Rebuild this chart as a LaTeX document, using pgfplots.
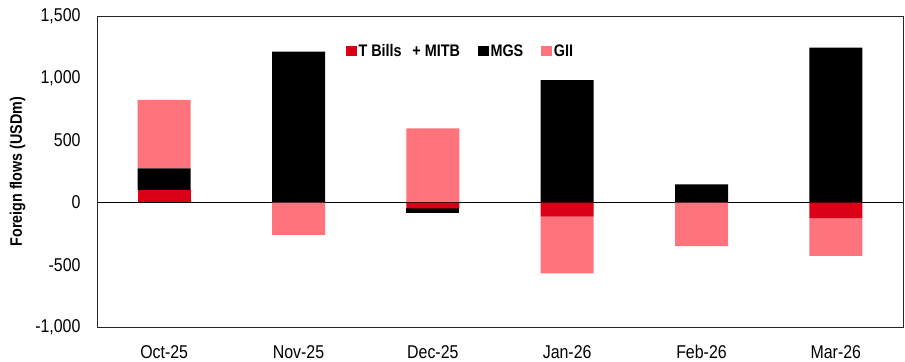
\documentclass[border=0pt]{standalone}
\usepackage{pgfplots}
\pgfplotsset{compat=1.18}
\usepackage{pgfplotstable}
\usepackage{fontspec}
\setmainfont[FakeStretch=0.86]{Liberation Sans}
\definecolor{tbred}{RGB}{218,0,22}
\definecolor{giipink}{RGB}{255,115,125}
\pgfplotstableread{
x T MGS GII
0 101 175 550
1 0 1213 0
2 0 0 597
3 0 985 0
4 0 147 0
5 0 1245 0
}\pos
\pgfplotstableread{
x T MGS GII
0 0 0 0
1 0 0 -260
2 -46 -35 0
3 -113 0 -455
4 0 0 -349
5 -126 0 -303
}\neg
\begin{document}
\begin{tikzpicture}
\pgfplotsset{
  base/.style={width=806bp, height=311bp, scale only axis,
    xmin=-0.5, xmax=5.5, ymin=-1000, ymax=1500,
    ybar stacked, bar width=53bp,
    legend image code/.code={\fill[##1] (0bp,-5bp) rectangle (10.5bp,5.5bp);}},
}
\begin{axis}[base,
  axis line style={black!85, line width=0.8bp},
  ytick={-1000,-500,0,500,1000,1500},
  xtick={0,1,2,3,4,5},
  xticklabels={Oct-25,Nov-25,Dec-25,Jan-26,Feb-26,Mar-26},
  major tick length=0pt,
  /pgf/number format/assume math mode=true,
  /pgf/number format/1000 sep={,},
  tick label style={font=\fontsize{18.6}{21}\selectfont},
  yticklabel style={xshift=-13bp},
  xticklabel style={yshift=-15bp},
  ylabel={Foreign flows (USDm)},
  ylabel style={font=\fontsize{16.7}{19}\selectfont\bfseries, yshift=3bp},
  legend style={at={(0.451,0.887)}, anchor=center, draw=none, fill=none,
    legend columns=3, font=\fontsize{16.8}{19}\selectfont\bfseries,
    /tikz/every even column/.append style={column sep=16bp}},
]
\coordinate (sw) at (rel axis cs:0,0);
\coordinate (ne) at (rel axis cs:1,1);
\addplot[fill=tbred, draw=none] table[x=x,y=T]{\pos};
\addlegendentry{T Bills\ \ \,+ MITB}
\addplot[fill=black, draw=none] table[x=x,y=MGS]{\pos};
\addlegendentry{MGS}
\addplot[fill=giipink, draw=none] table[x=x,y=GII]{\pos};
\addlegendentry{GII}
\end{axis}
\begin{axis}[base, hide axis]
\addplot[fill=tbred, draw=none] table[x=x,y=T]{\neg};
\addplot[fill=black, draw=none] table[x=x,y=MGS]{\neg};
\addplot[fill=giipink, draw=none] table[x=x,y=GII]{\neg};
\draw[black, line width=0.7bp] (axis cs:-0.5,0) -- (axis cs:5.5,0);
\end{axis}
\pgfresetboundingbox
\path[use as bounding box] ([shift={(-97bp,-34bp)}]sw) rectangle ([shift={(2bp,16bp)}]ne);
\end{tikzpicture}
\end{document}
